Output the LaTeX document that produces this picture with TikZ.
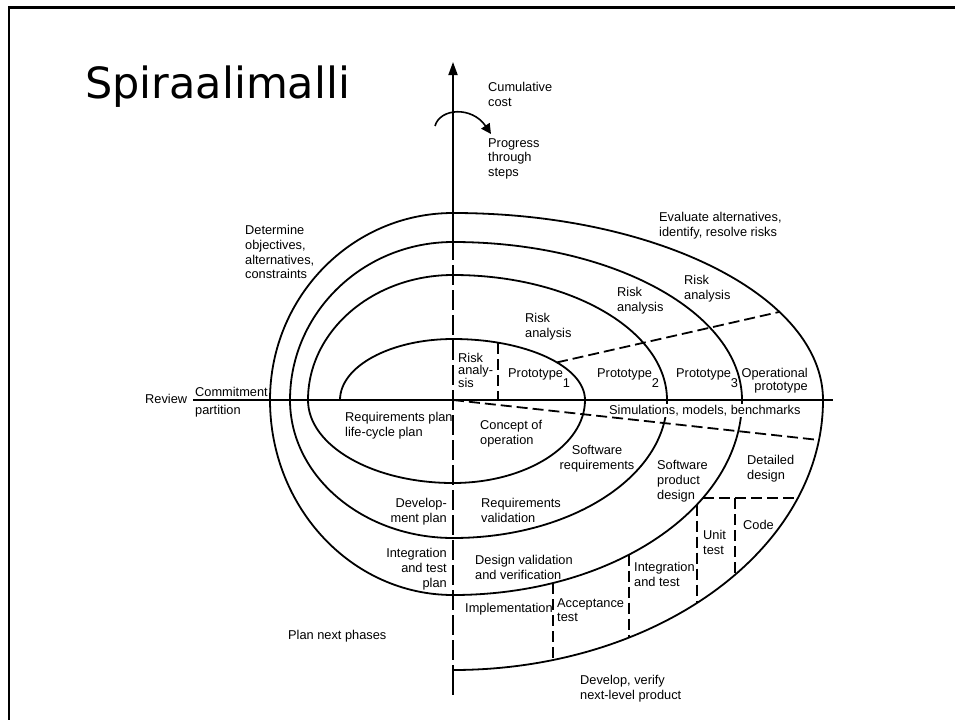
\documentclass[tikz,border=0pt]{standalone}
\usepackage{fontspec}
\setmainfont{Liberation Sans}
\newfontfamily\titlefont{DejaVu Sans}
\usetikzlibrary{arrows.meta}

\begin{document}
\begin{tikzpicture}[x=1pt, y=-1pt,
  lbl/.style={font=\fontsize{12.8}{14.8}\selectfont, inner sep=0pt, align=left, anchor=north west},
  lblr/.style={lbl, align=right, anchor=north east},
  curve/.style={line width=1.8pt, line join=round},
  axisline/.style={line width=1.8pt},
  dashline/.style={line width=1.8pt, dash pattern=on 11pt off 5pt},
  longdash/.style={line width=1.8pt, dash pattern=on 20pt off 5pt}]

\useasboundingbox (0,0) rectangle (955,720);

% slide frame
\draw[line width=3pt] (8,7.5) -- (955,7.5);
\draw[line width=2.5pt] (8.75,6) -- (8.75,720);

% title
\node[font=\titlefont\fontsize{43}{50}\selectfont, inner sep=0pt, anchor=base west] (title) at (85,98) {Spiraalimalli};

% axes
\coordinate (O) at (453,400);
\coordinate (axtop) at (453,62);
\coordinate (axsolid) at (453,240);
\coordinate (axdash) at (453,670);
\coordinate (axbot) at (453,695);
\coordinate (axleft) at (193,400);
\coordinate (axright) at (833,400);

% rotation arrow round the cost axis
\coordinate (rotA) at (435,126);
\coordinate (rotB) at (491,134);
\draw[line width=1.6pt, -{Triangle[length=10pt,width=10pt]}] (rotA) .. controls (440,108) and (472,106) .. (rotB);

% the spiral, built from quarter ellipses round the origin
\draw[curve] (340,400)
  arc[start angle=180, end angle=90,  x radius=113pt, y radius=61pt]
  arc[start angle=90,  end angle=0,   x radius=132pt, y radius=61pt]
  arc[start angle=0,   end angle=-90, x radius=132pt, y radius=83pt]
  arc[start angle=-90, end angle=-180,x radius=145pt, y radius=83pt]
  arc[start angle=180, end angle=90,  x radius=145pt, y radius=125pt]
  arc[start angle=90,  end angle=0,   x radius=214pt, y radius=125pt]
  arc[start angle=0,   end angle=-90, x radius=214pt, y radius=138pt]
  arc[start angle=-90, end angle=-180,x radius=163pt, y radius=138pt]
  arc[start angle=180, end angle=90,  x radius=163pt, y radius=158pt]
  arc[start angle=90,  end angle=0,   x radius=289pt, y radius=158pt]
  arc[start angle=0,   end angle=-90, x radius=289pt, y radius=195pt]
  arc[start angle=-90, end angle=-180,x radius=183pt, y radius=195pt]
  arc[start angle=180, end angle=90,  x radius=183pt, y radius=187pt]
  arc[start angle=90,  end angle=0,   x radius=370pt, y radius=187pt]
  arc[start angle=0,   end angle=-90, x radius=370pt, y radius=270pt];

% the strip label interrupts the spiral turns it crosses
\node[lbl, fill=white, inner ysep=1pt] (sim) at (609,404) {Simulations, models, benchmarks};

\draw[axisline] (axleft) -- (axright);
\draw[axisline, -{Triangle[length=13pt,width=9pt]}] (axsolid) -- (axtop);
\draw[longdash] (axsolid) -- (axdash);
\draw[axisline] (axdash) -- (axbot);

% dashed partitions
\coordinate (lowR) at (819,440);
\coordinate (upL) at (557,362.4);
\coordinate (upR) at (779,312);
\coordinate (p1t) at (498,343);
\coordinate (p1b) at (498,400);
\coordinate (ddL) at (703,498);
\coordinate (ddR) at (798,498);
\coordinate (cdT) at (735,498);
\coordinate (cdB) at (735,575);
\coordinate (utT) at (697,504.5);
\coordinate (utB) at (697,603);
\coordinate (itT) at (629,554.7);
\coordinate (itB) at (629,637.5);
\coordinate (atT) at (553,583);
\coordinate (atB) at (553,660);

\draw[dashline] (O) -- (lowR);
\draw[dashline] (upL) -- (upR);
\draw[dashline] (p1t) -- (p1b);
\draw[dashline] (ddL) -- (ddR);
\draw[dashline] (cdT) -- (cdB);
\draw[dashline] (utT) -- (utB);
\draw[dashline] (itT) -- (itB);
\draw[dashline] (atT) -- (atB);

% labels
\node[lbl] (cost) at (488,82) {Cumulative\\cost};
\node[lbl] (progress) at (488,138) {Progress\\through\\steps};
\node[lbl] (evaluate) at (659,212) {Evaluate alternatives,\\identify, resolve risks};
\node[lbl] (determine) at (245,225) {Determine\\objectives,\\alternatives,\\constraints};
\node[lbl] (risk1) at (525,313) {Risk\\analysis};
\node[lbl] (risk2) at (617,287) {Risk\\analysis};
\node[lbl] (risk3) at (684,275) {Risk\\analysis};
\node[lbl, font=\fontsize{12.8}{12.5}\selectfont] (risk0) at (458,353) {Risk\\analy-\\sis};
\node[lbl] (proto1) at (508,368) {Prototype\raisebox{-10pt}{1}};
\node[lbl] (proto2) at (597,368) {Prototype\raisebox{-10pt}{2}};
\node[lbl] (proto3) at (676,368) {Prototype\raisebox{-10pt}{3}};
\node[lblr, font=\fontsize{12.8}{13}\selectfont] (opproto) at (808,368) {Operational\\prototype};
\node[lbl] (concept) at (480,420) {Concept of\\operation};
\node[lbl] (reqplan) at (345,412) {Requirements plan\\life-cycle plan};
\node[lbl, align=center, anchor=north] (swreq) at (597,445) {Software\\requirements};
\node[lbl] (swprod) at (657,460) {Software\\product\\design};
\node[lbl] (detail) at (747,455) {Detailed\\design};
\node[lbl] (unit) at (703,530) {Unit\\test};
\node[lbl] (code) at (743,520) {Code};
\node[lbl] (integ) at (634,562) {Integration\\and test};
\node[lbl] (accept) at (557,598) {Acceptance\\test};
\node[lbl] (impl) at (465,603) {Implementation};
\node[lbl] (designval) at (475,555) {Design validation\\and verification};
\node[lbl] (reqval) at (481,498) {Requirements\\validation};
\node[lblr] (devplan) at (447,498) {Develop-\\ment plan};
\node[lblr] (itplan) at (447,548) {Integration\\and test\\plan};
\node[lbl] (nextph) at (288,630) {Plan next phases};
\node[lbl] (devver) at (580,675) {Develop, verify\\next-level product};
\node[lbl] (review) at (145,394) {Review};
\node[lbl] (commit) at (195,387) {Commitment};
\node[lbl] (partition) at (195,405) {partition};

\end{tikzpicture}
\end{document}
